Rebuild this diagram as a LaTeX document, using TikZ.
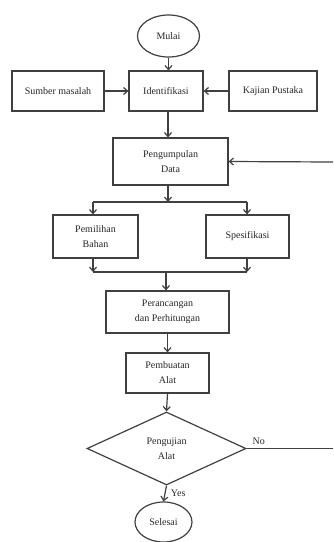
\documentclass[tikz,border=0pt]{standalone}
\usepackage{fontspec}
\setmainfont{Liberation Serif}
\usetikzlibrary{shapes.geometric,arrows.meta}
\begin{document}
\begin{tikzpicture}[x=1pt,y=-1pt,
  every node/.style={font=\fontsize{10}{15}\selectfont, text=black!85},
  boxs/.style={draw=black!75, line width=1.2pt, rectangle, inner sep=0pt, align=center},
  ovals/.style={draw=black!75, line width=1.2pt, ellipse, inner sep=0pt, align=center},
  dia/.style={draw=black!75, line width=1.2pt, diamond, aspect=2.2, inner sep=0pt, align=center},
  ln/.style={draw=black!75, line width=1.2pt},
  arr/.style={ln, -{Straight Barb[length=4pt,width=7pt]}}]
\useasboundingbox (0,0) rectangle (333,542);
\node[ovals, minimum width=62pt, minimum height=42pt] (mulai) at (168.5,36) {Mulai};
\node[boxs, minimum width=92pt, minimum height=40pt] (sumber) at (58,91) {Sumber masalah};
\node[boxs, minimum width=74pt, minimum height=40pt] (ident) at (166,91) {Identifikasi};
\node[boxs, minimum width=88pt, minimum height=40pt] (kajian) at (273,91) {Kajian Pustaka};
\node[boxs, minimum width=115pt, minimum height=47pt] (kumpul) at (170.5,161.5) {Pengumpulan\\Data};
\node[boxs, minimum width=85pt, minimum height=43pt] (pilih) at (95.5,236.5) {Pemilihan\\Bahan};
\node[boxs, minimum width=83pt, minimum height=43pt] (spek) at (247.5,236.5) {Spesifikasi};
\node[boxs, minimum width=123pt, minimum height=42pt] (rancang) at (167.5,312) {Perancangan\\dan Perhitungan};
\node[boxs, minimum width=83pt, minimum height=40pt] (buat) at (167.5,373) {Pembuatan\\Alat};
\node[dia, minimum width=159pt, minimum height=73pt] (uji) at (166.5,448.5) {Pengujian\\Alat};
\node[ovals, minimum width=57pt, minimum height=40pt] (selesai) at (163.5,522) {Selesai};

\coordinate (midx) at (168,0);
\coordinate (split) at (168,202);
\coordinate (splitL) at (93,202);
\coordinate (splitR) at (247,202);
\coordinate (joinL) at (93,272);
\coordinate (joinR) at (247,272);
\coordinate (joinM) at (166,272);
\coordinate (noend) at (333,448.5);
\coordinate (backin) at (333,162);

\draw[arr] (mulai.south) -- (mulai.south |- ident.north);
\draw[arr] (sumber.east) -- (ident.west);
\draw[arr] (kajian.west) -- (ident.east);
\draw[arr] (ident.south -| midx) -- (kumpul.north -| midx);
\draw[arr] (kumpul.south -| split) -- (split);
\draw[ln] (splitL) -- (splitR);
\draw[arr] (splitL) -- (splitL |- pilih.north);
\draw[arr] (splitR) -- (splitR |- spek.north);
\draw[arr] (joinL |- pilih.south) -- (joinL);
\draw[arr] (joinR |- spek.south) -- (joinR);
\draw[ln] (joinL) -- (joinR);
\draw[arr] (joinM) -- (joinM |- rancang.north);
\draw[arr] (rancang.south -| buat) -- (buat.north);
\draw[arr] (buat.south) -- (uji.north);
\draw[arr] (uji.south) -- (selesai.north) node[midway, right=2pt] {Yes};
\draw[ln] (uji.east) -- (noend) node[pos=0, anchor=south west, xshift=2pt] {No};
\draw[arr] (backin) -- (kumpul.east);
\end{tikzpicture}
\end{document}
